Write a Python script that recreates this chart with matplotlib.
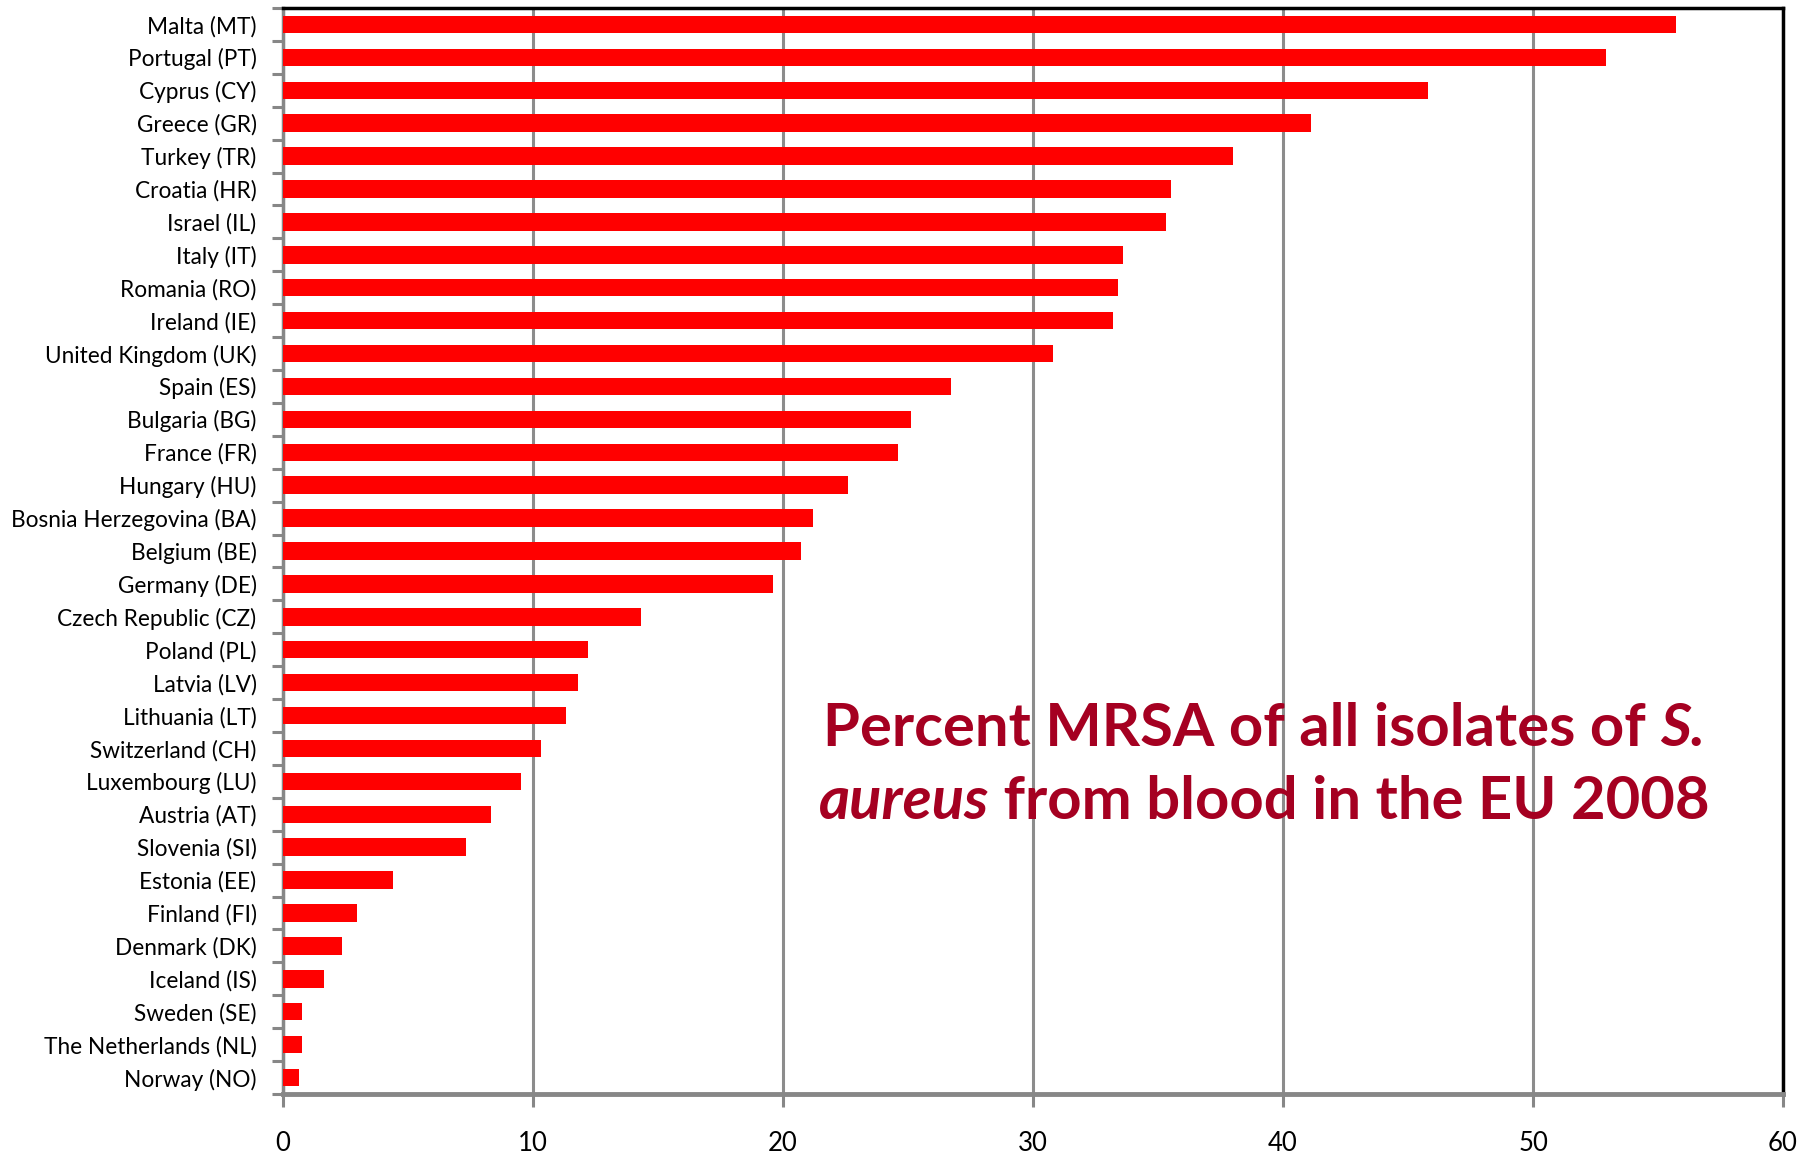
import matplotlib
matplotlib.use("Agg")
import matplotlib.pyplot as plt
import numpy as np

plt.rcParams['font.family'] = ['Lato', 'DejaVu Sans']

countries = [
    "Malta (MT)", "Portugal (PT)", "Cyprus (CY)", "Greece (GR)", "Turkey (TR)",
    "Croatia (HR)", "Israel (IL)", "Italy (IT)", "Romania (RO)", "Ireland (IE)",
    "United Kingdom (UK)", "Spain (ES)", "Bulgaria (BG)", "France (FR)",
    "Hungary (HU)", "Bosnia Herzegovina (BA)", "Belgium (BE)", "Germany (DE)",
    "Czech Republic (CZ)", "Poland (PL)", "Latvia (LV)", "Lithuania (LT)",
    "Switzerland (CH)", "Luxembourg (LU)", "Austria (AT)", "Slovenia (SI)",
    "Estonia (EE)", "Finland (FI)", "Denmark (DK)", "Iceland (IS)",
    "Sweden (SE)", "The Netherlands (NL)", "Norway (NO)",
]
mrsa_pct = [
    55.7, 52.9, 45.8, 41.1, 38.0,
    35.5, 35.3, 33.6, 33.4, 33.2,
    30.8, 26.7, 25.1, 24.6,
    22.6, 21.2, 20.7, 19.6,
    14.3, 12.2, 11.8, 11.3,
    10.3, 9.5, 8.3, 7.3,
    4.4, 2.95, 2.35, 1.65,
    0.75, 0.75, 0.65,
]
x_ticks = [0, 10, 20, 30, 40, 50, 60]

TITLE_RED = '#A50021'
GREY = '#878787'

fig = plt.figure(figsize=(18.2, 11.58), dpi=100)
ax = fig.add_axes([0.1555, 0.0553, 0.8242, 0.9378])

n = len(countries)
ypos = np.arange(n)
ax.barh(ypos, mrsa_pct, height=0.53, color='#FF0000', zorder=3)

ax.set_xlim(0, 60)
ax.set_ylim(n - 0.5, -0.5)
ax.set_xticks(x_ticks)
ax.set_xticklabels([str(t) for t in x_ticks])
ax.set_yticks(ypos)
ax.set_yticklabels(countries)
ax.set_yticks(np.arange(n + 1) - 0.5, minor=True)

ax.xaxis.grid(True, color='#8c8c8c', lw=2.2, zorder=0)
ax.set_axisbelow(True)

ax.tick_params(axis='y', which='major', length=0, pad=19, labelsize=16.3)
ax.tick_params(axis='y', which='minor', length=8, width=2.2, color=GREY, direction='out')
ax.tick_params(axis='x', length=9, width=2.2, color=GREY, direction='out', pad=18, labelsize=18.5)

ax.spines['left'].set_color(GREY)
ax.spines['left'].set_linewidth(2.5)
ax.spines['bottom'].set_color(GREY)
ax.spines['bottom'].set_linewidth(3.5)
ax.spines['top'].set_color('black')
ax.spines['top'].set_linewidth(2.5)
ax.spines['right'].set_color('black')
ax.spines['right'].set_linewidth(2.5)

# title drawn as text pieces so that "S. aureus" can be italic
renderer = fig.canvas.get_renderer()
title_lines = [
    [("Percent MRSA of all isolates of ", 'normal'), ("S.", 'italic')],
    [("aureus", 'italic'), (" from blood in the EU 2008", 'normal')],
]
line_y = [1 - 729 / 1158, 1 - 802 / 1158]
center_x = 1264 / 1820
for pieces, yy in zip(title_lines, line_y):
    texts = []
    for s, style in pieces:
        t = fig.text(0, yy, s, fontsize=43, fontweight='bold', style=style,
                     color=TITLE_RED, ha='left', va='center')
        texts.append(t)
    widths = [t.get_window_extent(renderer).width for t in texts]
    total = sum(widths)
    x = center_x * 1820 - total / 2
    for t, w in zip(texts, widths):
        t.set_x(x / 1820)
        x += w

fig.savefig("out.png", dpi=100)
